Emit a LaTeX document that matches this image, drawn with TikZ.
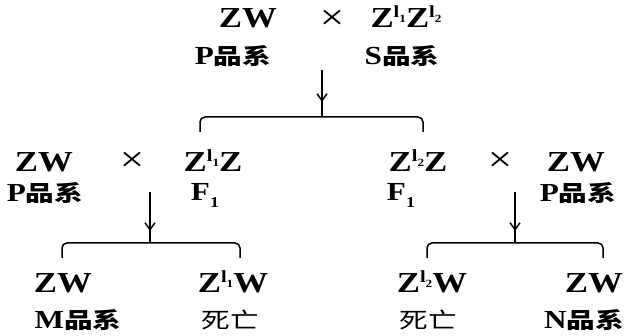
\documentclass[tikz,border=0pt]{standalone}
\usepackage{fontspec}
\setmainfont{Liberation Serif}[FakeStretch=1.2]
\newfontfamily\cjk{Noto Sans CJK SC}[FakeStretch=1.3]
\usetikzlibrary{arrows.meta}
\newcommand\lsup[1]{\raisebox{0.36em}{\fontsize{17pt}{17pt}\selectfont l\raisebox{-0.3em}{\fontsize{11pt}{11pt}\selectfont #1}}}
\newcommand\plab[2]{#1{\fontsize{22pt}{22pt}\selectfont\cjk\bfseries #2}}
\tikzset{
  gt/.style={font=\fontsize{29pt}{29pt}\selectfont\bfseries, inner sep=0pt, anchor=base},
  lb/.style={font=\fontsize{26pt}{26pt}\selectfont\bfseries, inner sep=0pt, anchor=base},
  dead/.style={font=\fontsize{22pt}{22pt}\selectfont\cjk, inner sep=0pt, anchor=base},
  crs/.style={font=\fontsize{36pt}{36pt}\selectfont, inner sep=0pt, anchor=center},
  ln/.style={line width=1.5pt},
  arr/.style={line width=1.5pt, -{Straight Barb[length=7pt,width=10pt,line width=1.5pt]}},
  brk/.style={line width=1.5pt, rounded corners=5pt}
}
\begin{document}
\begin{tikzpicture}[x=1pt,y=-1pt]
\useasboundingbox (0,0) rectangle (625,336);
% top row
\node[gt] (p0) at (248,28) {ZW};
\node[crs] (x0) at (332,20) {×};
\node[gt] (s0) at (406,28) {Z\lsup{1}Z\lsup{2}};
\node[lb] (pl0) at (233,65) {\plab{P}{品系}};
\node[lb] (sl0) at (402,65) {\plab{S}{品系}};
\coordinate (a0s) at (322,70);
\coordinate (a0t) at (322,102);
\coordinate (b0m) at (322,117);
\coordinate (b0l) at (200,132);
\coordinate (b0r) at (423,132);
\draw[arr] (a0s) -- (a0t);
\draw[ln] (a0t) ++(0,-4) -- (b0m);
\draw[brk] (b0l) -- (b0l |- b0m) -- (b0r |- b0m) -- (b0r);
% middle left
\node[gt] (p1) at (44,172) {ZW};
\node[crs] (x1) at (132,162) {×};
\node[gt] (f1a) at (213,172) {Z\lsup{1}Z};
\node[lb] (pl1) at (45,202) {\plab{P}{品系}};
\node[lb] (fl1) at (205,201) {F\raisebox{-0.25em}{\fontsize{15pt}{15pt}\selectfont 1}};
% middle right
\node[gt] (f1b) at (418,172) {Z\lsup{2}Z};
\node[crs] (x2) at (500,162) {×};
\node[gt] (p2) at (576,172) {ZW};
\node[lb] (fl2) at (401,201) {F\raisebox{-0.25em}{\fontsize{15pt}{15pt}\selectfont 1}};
\node[lb] (pl2) at (578,202) {\plab{P}{品系}};
% left arrow & bracket
\coordinate (a1s) at (150,192);
\coordinate (a1t) at (150,231);
\coordinate (b1m) at (150,243);
\coordinate (b1l) at (62,258);
\coordinate (b1r) at (240,258);
\draw[arr] (a1s) -- (a1t);
\draw[ln] (a1t) ++(0,-4) -- (b1m);
\draw[brk] (b1l) -- (b1l |- b1m) -- (b1r |- b1m) -- (b1r);
% right arrow & bracket
\coordinate (a2s) at (515,192);
\coordinate (a2t) at (515,231);
\coordinate (b2m) at (515,243);
\coordinate (b2l) at (427,258);
\coordinate (b2r) at (603,258);
\draw[arr] (a2s) -- (a2t);
\draw[ln] (a2t) ++(0,-4) -- (b2m);
\draw[brk] (b2l) -- (b2l |- b2m) -- (b2r |- b2m) -- (b2r);
% bottom row
\node[gt] (m) at (63,293) {ZW};
\node[gt] (d1) at (233,293) {Z\lsup{1}W};
\node[lb] (ml) at (78,329) {\plab{M}{品系}};
\node[dead] (dl1) at (230,329) {死亡};
\node[gt] (d2) at (432,293) {Z\lsup{2}W};
\node[gt] (n) at (594,293) {ZW};
\node[dead] (dl2) at (428,329) {死亡};
\node[lb] (nl) at (584,329) {\plab{N}{品系}};
\end{tikzpicture}
\end{document}
